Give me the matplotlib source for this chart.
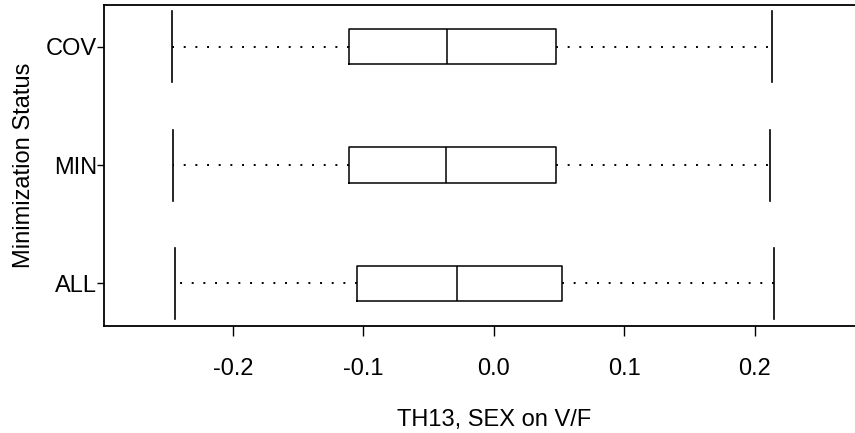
import matplotlib
matplotlib.use("Agg")
import matplotlib.pyplot as plt

plt.rcParams['font.family'] = ['Liberation Sans', 'DejaVu Sans']

# parameter estimate summaries per minimization status (bottom to top)
groups = ['ALL', 'MIN', 'COV']
whisk_lo = [-0.2444, -0.2460, -0.2467]
q1 = [-0.1052, -0.1111, -0.1113]
median = [-0.0284, -0.0365, -0.0362]
q3 = [0.0523, 0.0473, 0.0473]
whisk_hi = [0.2148, 0.2117, 0.2128]

stats = []
for i, g in enumerate(groups):
    stats.append(dict(label=g, whislo=whisk_lo[i], q1=q1[i], med=median[i],
                      q3=q3[i], whishi=whisk_hi[i], fliers=[]))

fig = plt.figure(figsize=(8.55, 4.33), dpi=100)
ax = fig.add_axes([104.3 / 855, 107.3 / 433, 779.2 / 855, 320.4 / 433])

ax.bxp(stats, positions=[1, 2, 3], widths=0.3, capwidths=0.6,
       orientation='horizontal', showfliers=False,
       boxprops=dict(color='black', linewidth=1.1),
       medianprops=dict(color='black', linewidth=1.1),
       whiskerprops=dict(color='black', linewidth=1.4, linestyle=(0, (1, 5))),
       capprops=dict(color='black', linewidth=1.2))

ax.set_xlim(-0.2985, 0.2985)
ax.set_ylim(0.642, 3.350)
ax.set_xticks([-0.2, -0.1, 0.0, 0.1, 0.2])
ax.set_xticklabels(['-0.2', '-0.1', '0.0', '0.1', '0.2'])
ax.set_yticks([1, 2, 3])
ax.set_yticklabels(groups)

ax.spines['right'].set_visible(False)
for s in ['left', 'bottom', 'top']:
    ax.spines[s].set_linewidth(1.3)

ax.tick_params(axis='x', length=7, width=1.0, pad=16, labelsize=17)
ax.tick_params(axis='y', length=5, width=1.0, pad=0, labelsize=17)

ax.set_xlabel('TH13, SEX on V/F', fontsize=17, labelpad=21)
ax.set_ylabel('Minimization Status', fontsize=17, labelpad=8)

fig.savefig('out.png', dpi=100)
